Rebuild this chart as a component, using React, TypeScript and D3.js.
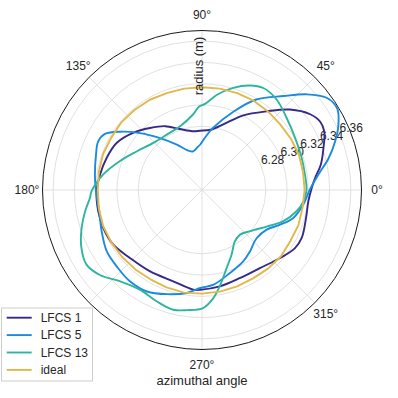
import React from "react";
import * as d3 from "d3";

const seriesNames = ["LFCS 1", "LFCS 5", "LFCS 13", "ideal"];
const seriesColors = ["#35298a", "#1a8be0", "#2fb59f", "#e2b84a"];

// angles in degrees (counter-clockwise from 0°), radii in metres
const lfcs1Angles = [1, 6, 12, 19, 25.5, 30, 35, 42.5, 50.5, 61, 70, 82, 92, 98, 110, 120, 130, 140, 151, 161, 171.5, 181, 191.5, 201, 211.5, 223.5, 237.5, 252.5, 265, 269, 280.5, 293.5, 306.5, 319, 328, 334.5, 345, 354];
const lfcs1Radii = [6.3232, 6.3269, 6.3342, 6.3408, 6.3474, 6.3484, 6.3442, 6.332, 6.3159, 6.3003, 6.2872, 6.2772, 6.2758, 6.2758, 6.281, 6.2893, 6.2961, 6.304, 6.3116, 6.3145, 6.317, 6.3191, 6.3196, 6.3195, 6.318, 6.3131, 6.3108, 6.31, 6.3141, 6.3138, 6.3122, 6.3102, 6.3114, 6.3174, 6.3231, 6.324, 6.3213, 6.3206];

const lfcs5Angles = [0, 7.5, 14, 20, 25.5, 31, 36.5, 42.5, 49, 59, 68, 80, 87, 92.5, 96, 103, 109, 119, 129, 137.5, 144.5, 150, 155, 161.5, 172, 181, 191.5, 202.5, 213, 222, 231.5, 241.5, 251.5, 261.5, 269, 277, 288.5, 300, 308, 318.5, 328.5, 336, 343, 352];
const lfcs5Radii = [6.3212, 6.3303, 6.3426, 6.3532, 6.3621, 6.3684, 6.3658, 6.3532, 6.3371, 6.3193, 6.2997, 6.2793, 6.269, 6.2626, 6.2605, 6.2573, 6.2591, 6.2688, 6.2828, 6.2992, 6.3144, 6.3254, 6.3278, 6.3251, 6.3217, 6.3197, 6.3187, 6.3221, 6.3266, 6.3277, 6.3294, 6.3286, 6.3233, 6.3179, 6.3122, 6.3097, 6.3024, 6.2975, 6.2933, 6.2885, 6.2914, 6.3003, 6.3098, 6.3163];

const lfcs13Angles = [0, 8.5, 18, 29, 40.5, 50.5, 59, 65.5, 73, 81, 88, 92, 97, 109, 122.5, 136, 149.5, 160.5, 171, 180.5, 184, 190.5, 197.5, 205.5, 213, 220, 228, 238, 248, 256.5, 263, 270.5, 276, 281, 287.5, 294.5, 302.5, 310.5, 319.5, 330.5, 339, 347.5, 353.5];
const lfcs13Radii = [6.3183, 6.3179, 6.3185, 6.3203, 6.3246, 6.3303, 6.3319, 6.328, 6.3204, 6.3107, 6.301, 6.2985, 6.2913, 6.2834, 6.2817, 6.2837, 6.2914, 6.3018, 6.314, 6.3238, 6.3256, 6.3319, 6.3387, 6.3457, 6.3493, 6.3447, 6.3354, 6.3304, 6.3331, 6.3358, 6.3338, 6.331, 6.3222, 6.3107, 6.297, 6.287, 6.2774, 6.2752, 6.2795, 6.2898, 6.3019, 6.3113, 6.3159];

const idealAngles = [0, 10, 20, 30, 40, 50, 60, 70, 80, 90, 100, 110, 120, 130, 140, 150, 160, 170, 180, 190, 200, 210, 220, 230, 240, 250, 260, 270, 280, 290, 300, 310, 320, 330, 340, 350];
const idealRadii = [6.3165, 6.3165, 6.317, 6.3165, 6.316, 6.3165, 6.317, 6.317, 6.3168, 6.3166, 6.3168, 6.317, 6.318, 6.3185, 6.319, 6.3185, 6.319, 6.3185, 6.318, 6.3185, 6.319, 6.3185, 6.318, 6.3175, 6.317, 6.3175, 6.318, 6.3175, 6.317, 6.3165, 6.316, 6.3165, 6.317, 6.316, 6.3165, 6.316];

const radialTicks = [6.28, 6.3, 6.32, 6.34, 6.36];
const radialTickLabels = ["6.28", "6.30", "6.32", "6.34", "6.36"];
const angleTicks = [0, 45, 90, 135, 180, 225, 270, 315];
const angleTickLabels = ["0°", "45°", "90°", "135°", "180°", "", "270°", "315°"];
const rDomain = [6.22, 6.37];

const W = 398;
const H = 398;
const cx = 202;
const cy = 190;
const R = 159.5;
const font = "'Liberation Sans', Arial, sans-serif";
const textColor = "#262626";

export default function App() {
  const r = d3.scaleLinear().domain(rDomain).range([0, R]);
  const toRad = (deg: number) => (deg * Math.PI) / 180;
  const px = (deg: number, rad: number) => cx + rad * Math.cos(toRad(deg));
  const py = (deg: number, rad: number) => cy - rad * Math.sin(toRad(deg));

  const series = [
    { angles: lfcs1Angles, radii: lfcs1Radii, curve: d3.curveCatmullRomClosed },
    { angles: lfcs5Angles, radii: lfcs5Radii, curve: d3.curveCatmullRomClosed },
    { angles: lfcs13Angles, radii: lfcs13Radii, curve: d3.curveCatmullRomClosed },
    { angles: idealAngles, radii: idealRadii, curve: d3.curveLinearClosed },
  ];

  const paths = series.map((s) => {
    const pts = s.angles.map((a, i) => [a, s.radii[i]] as [number, number]);
    const gen = d3
      .lineRadial<[number, number]>()
      .angle((d) => toRad(90 - d[0]))
      .radius((d) => r(d[1]))
      .curve(s.curve);
    return gen(pts) || "";
  });

  const labelR = 175;
  const rlabelAngle = 22.5;

  return (
    <div style={{ position: "absolute", left: 0, top: 0 }}>
      <svg width={W} height={H} style={{ display: "block" }} fontFamily={font}>
        <rect width={W} height={H} fill="#ffffff" />
        {/* grid */}
        {radialTicks.map((t) => (
          <circle key={t} cx={cx} cy={cy} r={r(t)} fill="none" stroke="#d9d9d9" strokeWidth={0.8} />
        ))}
        {angleTicks.map((a) => (
          <line key={a} x1={cx} y1={cy} x2={px(a, R)} y2={py(a, R)} stroke="#d9d9d9" strokeWidth={0.8} />
        ))}
        {/* radial tick labels */}
        {radialTicks.map((t, i) => (
          <text
            key={"rl" + t}
            x={px(rlabelAngle, r(t))}
            y={py(rlabelAngle, r(t)) - 1.5}
            fontSize={12}
            fill={textColor}
            textAnchor="start"
          >
            {radialTickLabels[i]}
          </text>
        ))}
        {/* outer frame */}
        <circle cx={cx} cy={cy} r={R} fill="none" stroke="#1a1a1a" strokeWidth={1} />
        {/* series */}
        <g transform={`translate(${cx},${cy})`}>
          {paths.map((d, i) => (
            <path key={i} d={d} fill="none" stroke={seriesColors[i]} strokeWidth={1.9} strokeLinejoin="round" />
          ))}
        </g>
        {/* angle labels */}
        {angleTicks.map((a, i) => (
          <text
            key={"al" + a}
            x={px(a, labelR)}
            y={py(a, labelR)}
            fontSize={12}
            fill={textColor}
            textAnchor="middle"
            dominantBaseline="central"
          >
            {angleTickLabels[i]}
          </text>
        ))}
        {/* axis labels */}
        <text x={cx} y={385} fontSize={13} fill={textColor} textAnchor="middle">
          azimuthal angle
        </text>
        <text
          transform={`translate(${cx + 0.5},66) rotate(-90)`}
          fontSize={13}
          fill={textColor}
          textAnchor="middle"
        >
          radius (m)
        </text>
        {/* legend */}
        <g>
          <rect x={1.5} y={308} width={91} height={73} fill="#ffffff" fillOpacity={0.85} stroke="#c8c8c8" strokeWidth={0.9} />
          {seriesNames.map((n, i) => (
            <g key={n} transform={`translate(0,${317.7 + i * 17.4})`}>
              <line x1={6.7} x2={31.7} y1={0} y2={0} stroke={seriesColors[i]} strokeWidth={1.9} />
              <text x={40.7} y={4.3} fontSize={12} fill={textColor}>
                {n}
              </text>
            </g>
          ))}
        </g>
      </svg>
    </div>
  );
}
